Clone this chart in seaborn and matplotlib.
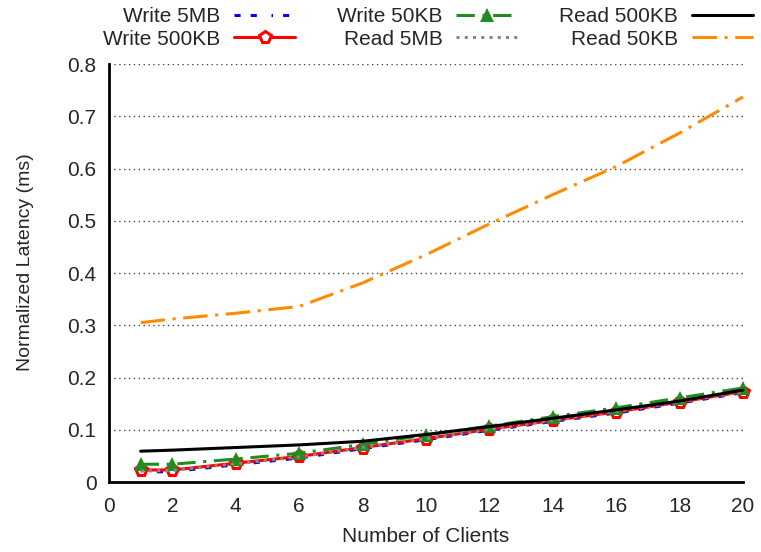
import matplotlib
matplotlib.use("Agg")
import matplotlib.pyplot as plt
import seaborn as sns
import pandas as pd

clients = [1, 2, 4, 6, 8, 10, 12, 14, 16, 18, 20]
write_5mb = [0.019, 0.020, 0.033, 0.046, 0.064, 0.081, 0.099, 0.116, 0.132, 0.151, 0.171]
write_500kb = [0.023, 0.023, 0.036, 0.049, 0.066, 0.083, 0.101, 0.118, 0.134, 0.153, 0.173]
write_50kb = [0.034, 0.034, 0.044, 0.055, 0.072, 0.090, 0.107, 0.125, 0.142, 0.161, 0.180]
read_5mb = [0.021, 0.022, 0.035, 0.048, 0.066, 0.083, 0.101, 0.118, 0.135, 0.153, 0.173]
read_500kb = [0.059, 0.061, 0.066, 0.071, 0.078, 0.091, 0.106, 0.122, 0.138, 0.155, 0.176]
read_50kb = [0.305, 0.312, 0.323, 0.336, 0.381, 0.435, 0.494, 0.550, 0.604, 0.668, 0.737]

sns.set_theme(style="white")
plt.rcParams['font.family'] = ['Liberation Sans', 'DejaVu Sans']

FS = 15
fig = plt.figure(figsize=(7.61, 5.52), dpi=100)
ax = fig.add_axes([0.1432, 0.1268, 0.8331, 0.7572])

LW = 2.2
series = [
    ("Write 5MB", write_5mb, dict(color="#0000ff", linestyle=(0, (2, 3.3)), marker="+", markersize=8, markeredgewidth=2.2, linewidth=LW)),
    ("Write 500KB", write_500kb, dict(color="#ff0000", linestyle="-", marker="p", markersize=8.5, markerfacecolor="white", markeredgecolor="#ff0000", markeredgewidth=2.2, linewidth=LW)),
    ("Write 50KB", write_50kb, dict(color="#228b22", linestyle=(0, (6, 2.5, 1, 2.5)), marker="^", markersize=10, markeredgewidth=0, linewidth=LW)),
    ("Read 5MB", read_5mb, dict(color="#888888", linestyle=(0, (1, 1.7)), linewidth=LW)),
    ("Read 500KB", read_500kb, dict(color="#000000", linestyle="-", linewidth=LW)),
    ("Read 50KB", read_50kb, dict(color="#ff8c00", linestyle=(0, (8, 2.5, 1, 2.5)), linewidth=LW)),
]

for label, vals, kw in series:
    df = pd.DataFrame({"clients": clients, "latency": vals})
    sns.lineplot(data=df, x="clients", y="latency", ax=ax, label=label, clip_on=False, **kw)

ax.set_xlim(0, 20)
ax.set_ylim(0, 0.8)
ax.set_xticks(range(0, 21, 2))
ax.set_yticks([i / 10 for i in range(0, 9)])
ax.set_yticklabels(["0", "0.1", "0.2", "0.3", "0.4", "0.5", "0.6", "0.7", "0.8"])
ax.set_xlabel("Number of Clients", fontsize=FS, va="center")
ax.set_ylabel("Normalized Latency (ms)", fontsize=14, va="center")
ax.xaxis.set_label_coords(0.5, -0.13)
ax.yaxis.set_label_coords(-0.131, 0.527)
ax.tick_params(axis="both", direction="in", length=7, width=1.6, labelsize=FS, color="black")
ax.tick_params(axis="x", pad=10.5)
ax.tick_params(axis="y", pad=9)
ax.yaxis.grid(True, linestyle=(0, (1, 2.5)), color="#444444", linewidth=1.0)
ax.xaxis.grid(False)
for s in ["top", "right"]:
    ax.spines[s].set_visible(False)
for s in ["left", "bottom"]:
    ax.spines[s].set_color("black")
    ax.spines[s].set_linewidth(2)

leg = ax.legend(loc="upper left", bbox_to_anchor=(103 / 761, 1 - 7.5 / 552), bbox_transform=fig.transFigure,
                ncol=3, frameon=False, markerfirst=False, fontsize=FS, handlelength=2.93,
                columnspacing=2.0, labelspacing=0.15, borderaxespad=0, borderpad=0,
                handletextpad=0.67)
for t in leg.get_texts():
    t.set_ha("right")

fig.savefig("out.png", dpi=100)
